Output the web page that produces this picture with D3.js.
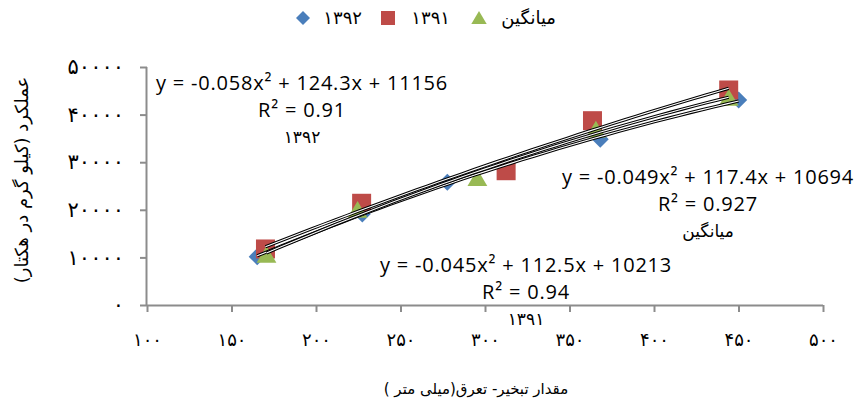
<!DOCTYPE html>
<html>
<head>
<meta charset="utf-8">
<script src="https://cdn.jsdelivr.net/npm/d3@7"></script>
<style>
  html, body { margin: 0; padding: 0; background: #fff; }
  svg { display: block; }
  .fa { font-family: "DejaVu Sans", sans-serif; }
  .eq { font-family: "Open Sans", "Liberation Sans", sans-serif; fill: #000; }
</style>
</head>
<body>
<svg id="chart" width="861" height="403"></svg>
<script>
// Evapotranspiration (mm) vs. yield (kg/ha)
const years = ["۱۳۹۲", "۱۳۹۱", "میانگین"];
const et1392 = [165.2, 227.4, 277.7, 368.2, 450.1];
const yield1392 = [10150, 19120, 25780, 34810, 43070];
const et1391 = [170.1, 227.0, 312.5, 363.6, 444.2];
const yield1391 = [11770, 21370, 28210, 38720, 45170];
const etAvg = [170.7, 224.6, 295.5, 365.6, 444.2];
const yieldAvg = [10500, 19960, 26620, 36820, 43490];

const xTicks = [100, 150, 200, 250, 300, 350, 400, 450, 500];
const xTickLabels = ["۱۰۰", "۱۵۰", "۲۰۰", "۲۵۰", "۳۰۰", "۳۵۰", "۴۰۰", "۴۵۰", "۵۰۰"];
const yTicks = [0, 10000, 20000, 30000, 40000, 50000];
const yTickLabels = ["۰", "۱۰۰۰۰", "۲۰۰۰۰", "۳۰۰۰۰", "۴۰۰۰۰", "۵۰۰۰۰"];

const trendEquations = [
  "y = -0.058x² + 124.3x + 11156",
  "y = -0.045x² + 112.5x + 10213",
  "y = -0.049x² + 117.4x + 10694"
];
const trendR2 = ["R² = 0.91", "R² = 0.94", "R² = 0.927"];

const xTitle = "مقدار تبخیر- تعرق(میلی متر )";
const yTitle = "عملکرد (کیلو گرم در هکتار)";

const series = [
  { name: years[0], x: et1392, y: yield1392, color: "#4a7ebb", shape: "diamond" },
  { name: years[1], x: et1391, y: yield1391, color: "#be4b48", shape: "square" },
  { name: years[2], x: etAvg, y: yieldAvg, color: "#98b954", shape: "triangle" }
];

const svg = d3.select("#chart");
const x = d3.scaleLinear().domain([100, 500]).range([147, 823]);
const y = d3.scaleLinear().domain([0, 50000]).range([305, 67]);
const axisColor = "#8c8c8c";

// Axes
const xAxis = d3.axisBottom(x).tickValues(xTicks).tickSize(7).tickFormat((d, i) => xTickLabels[i]);
const gx = svg.append("g").attr("transform", `translate(0,${y(0)})`).call(xAxis);
gx.select(".domain").attr("d", `M${x(100) - 7},0.5H${x(500)}`);
gx.selectAll("line").attr("stroke", axisColor).attr("stroke-width", 2);
gx.select(".domain").attr("stroke", axisColor).attr("stroke-width", 2);
gx.selectAll("text").attr("class", "fa").attr("font-size", 18).attr("letter-spacing", 3)
  .attr("fill", "#000").attr("y", 28).attr("dy", "0.71em");

const yAxis = d3.axisLeft(y).tickValues(yTicks).tickSize(7).tickFormat((d, i) => yTickLabels[i]);
const gy = svg.append("g").attr("transform", `translate(${x(100)},0)`).call(yAxis);
gy.select(".domain").attr("d", `M-0.5,${y(50000)}V${y(0)}`);
gy.selectAll("line").attr("stroke", axisColor).attr("stroke-width", 2);
gy.select(".domain").attr("stroke", axisColor).attr("stroke-width", 2);
gy.selectAll(".tick").filter(d => d === 0).select("line").remove();
gy.selectAll("text").attr("class", "fa").attr("font-size", 21).attr("letter-spacing", 6)
  .attr("fill", "#000").attr("x", -23);
svg.selectAll(".domain").attr("fill", "none");

// Axis titles
svg.append("text").attr("class", "fa").attr("direction", "rtl")
  .attr("x", 476).attr("y", 394).attr("text-anchor", "middle").attr("font-size", 15)
  .text(xTitle);
svg.append("text").attr("class", "fa").attr("direction", "rtl")
  .attr("transform", "translate(28,180) rotate(-90)").attr("text-anchor", "middle")
  .attr("font-size", 18).text(yTitle);

// Markers
function marker(sel, shape, color, s) {
  if (shape === "diamond") {
    sel.append("path").attr("d", `M0,${-s}L${s},0L0,${s}L${-s},0Z`).attr("fill", color);
  } else if (shape === "square") {
    sel.append("rect").attr("x", -s).attr("y", -s).attr("width", 2 * s).attr("height", 2 * s).attr("fill", color);
  } else {
    sel.append("path").attr("d", `M0,${-s}L${s * 1.1},${s * 0.85}L${-s * 1.1},${s * 0.85}Z`).attr("fill", color);
  }
}
const sizes = { diamond: 8.5, square: 9.5, triangle: 9 };
series.forEach(s => {
  s.x.forEach((xv, i) => {
    const g = svg.append("g").attr("transform", `translate(${x(xv)},${y(s.y[i])})`);
    marker(g, s.shape, s.color, sizes[s.shape]);
  });
});

// Second-order polynomial least-squares fit for each series
function polyFit2(xs, ys) {
  const n = xs.length;
  let S = [0, 0, 0, 0, 0], T = [0, 0, 0];
  for (let i = 0; i < n; i++) {
    let p = 1;
    for (let k = 0; k < 5; k++) { S[k] += p; if (k < 3) T[k] += p * ys[i]; p *= xs[i]; }
  }
  const M = [[S[0], S[1], S[2], T[0]], [S[1], S[2], S[3], T[1]], [S[2], S[3], S[4], T[2]]];
  for (let c = 0; c < 3; c++) {
    for (let r = c + 1; r < 3; r++) {
      const f = M[r][c] / M[c][c];
      for (let k = c; k < 4; k++) M[r][k] -= f * M[c][k];
    }
  }
  const b = [0, 0, 0];
  for (let r = 2; r >= 0; r--) {
    let v = M[r][3];
    for (let k = r + 1; k < 3; k++) v -= M[r][k] * b[k];
    b[r] = v / M[r][r];
  }
  return b; // c0 + c1 x + c2 x^2
}
const line = d3.line().x(d => x(d[0])).y(d => y(d[1]));
series.forEach(s => {
  const c = polyFit2(s.x, s.y);
  const [lo, hi] = d3.extent(s.x);
  const pts = d3.range(0, 41).map(i => {
    const xv = lo + (hi - lo) * i / 40;
    return [xv, c[0] + c[1] * xv + c[2] * xv * xv];
  });
  svg.append("path").datum(pts).attr("d", line).attr("fill", "none")
    .attr("stroke", "#000").attr("stroke-width", 3.2);
  svg.append("path").datum(pts).attr("d", line).attr("fill", "none")
    .attr("stroke", "#fff").attr("stroke-width", 1.1);
});

// Trendline labels
const labels = [
  { cx: 302, base: 90, eq: trendEquations[0], r2: trendR2[0], name: years[0] },
  { cx: 526, base: 272, eq: trendEquations[1], r2: trendR2[1], name: years[1] },
  { cx: 708, base: 184, eq: trendEquations[2], r2: trendR2[2], name: years[2] }
];
labels.forEach(l => {
  svg.append("text").attr("class", "eq").attr("x", l.cx).attr("y", l.base)
    .attr("text-anchor", "middle").attr("font-size", 20).attr("letter-spacing", 0.8).text(l.eq);
  svg.append("text").attr("class", "eq").attr("x", l.cx).attr("y", l.base + 27)
    .attr("text-anchor", "middle").attr("font-size", 20).attr("letter-spacing", 0.8).text(l.r2);
  svg.append("text").attr("class", "fa").attr("direction", "rtl").attr("x", l.cx).attr("y", l.base + 53)
    .attr("text-anchor", "middle").attr("font-size", 17).attr("letter-spacing", 2).text(l.name);
});

// Legend
const legend = [
  { name: years[0], shape: "diamond", color: series[0].color, mx: 303, tx: 362 },
  { name: years[1], shape: "square", color: series[1].color, mx: 388, tx: 450 },
  { name: years[2], shape: "triangle", color: series[2].color, mx: 479, tx: 556 }
];
legend.forEach(l => {
  const g = svg.append("g").attr("transform", `translate(${l.mx},18)`);
  marker(g, l.shape, l.color, 7);
  svg.append("text").attr("class", "fa").attr("direction", "rtl").attr("x", l.tx).attr("y", 24)
    .attr("text-anchor", "start").attr("font-size", 18).attr("letter-spacing", 2).text(l.name);
});
</script>
</body>
</html>
